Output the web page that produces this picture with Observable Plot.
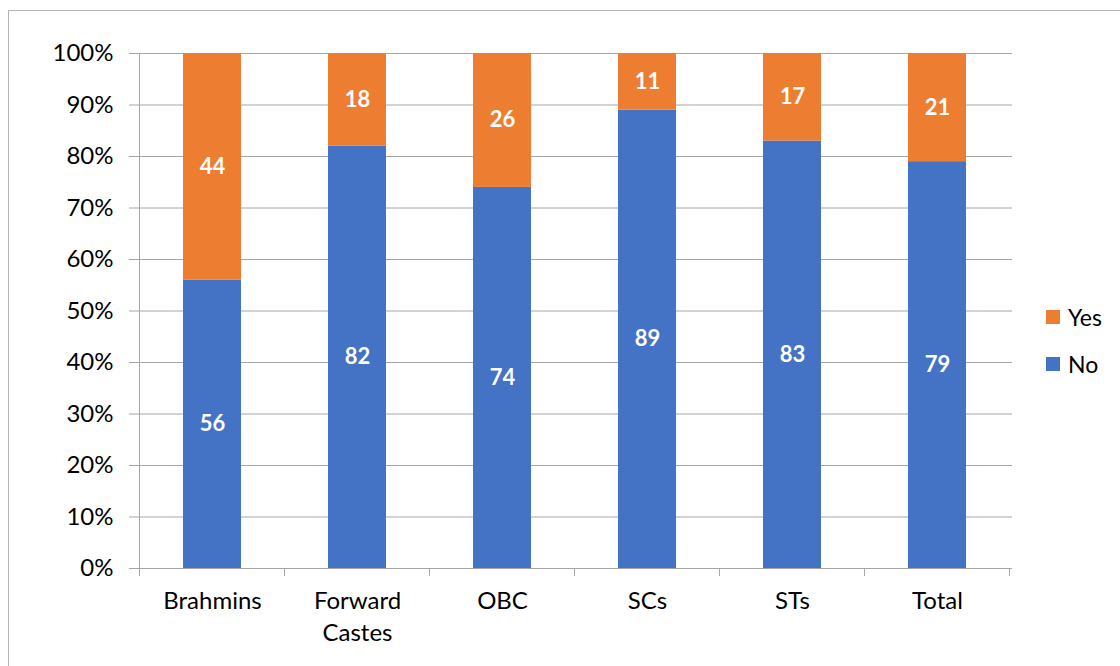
<!DOCTYPE html>
<html>
<head>
<meta charset="utf-8">
<script src="https://cdn.jsdelivr.net/npm/d3@7"></script>
<script src="https://cdn.jsdelivr.net/npm/@observablehq/plot@0.6"></script>
<style>
  html, body { margin: 0; padding: 0; background: #fff; }
  #wrap { position: relative; width: 1120px; height: 666px; overflow: hidden; font-family: Lato, "Open Sans", sans-serif; }
  #border { position: absolute; left: 8px; top: 10px; width: 1130px; height: 680px; border: 1.5px solid #b4b4b4; box-sizing: border-box; }
  #chart { position: absolute; left: 0; top: 0; }
  #legend { position: absolute; left: 1046px; top: 300px; font-size: 23px; color: #000; }
  .li { display: flex; align-items: center; height: 34px; margin-bottom: 13px; }
  .sw { width: 14px; height: 14px; margin-right: 8px; }
</style>
</head>
<body>
<div id="wrap">
  <div id="border"></div>
  <div id="chart"></div>
  <div id="legend"></div>
</div>
<script>
const categories = ["Brahmins", "Forward\nCastes", "OBC", "SCs", "STs", "Total"];
const yesValues = [44, 18, 26, 11, 17, 21];
const noValues = [56, 82, 74, 89, 83, 79];
const seriesNames = ["No", "Yes"];
const seriesColors = ["#4472c4", "#ed7d31"];
const yTicks = [0, 10, 20, 30, 40, 50, 60, 70, 80, 90, 100];
const legendOrder = ["Yes", "No"];

const data = [];
categories.forEach((c, i) => {
  data.push({cat: c, series: "No", value: noValues[i]});
  data.push({cat: c, series: "Yes", value: yesValues[i]});
});

const gray = "#a6a6a6";

const plot = Plot.plot({
  width: 1120,
  height: 666,
  marginLeft: 137,
  marginRight: 108,
  marginTop: 53,
  marginBottom: 98,
  style: { fontFamily: "Lato, 'Open Sans', sans-serif", fontSize: "24px", color: "#000", background: "transparent" },
  x: { domain: categories, paddingInner: 0.6, paddingOuter: 0.3, label: null },
  y: { domain: [0, 100], label: null },
  color: { domain: seriesNames, range: seriesColors },
  marks: [
    Plot.gridY(yTicks, { stroke: gray, strokeOpacity: 1, strokeWidth: 1 }),
    Plot.axisY({ ticks: yTicks, tickFormat: d => d + "%", tickSize: 8, tickPadding: 16, stroke: gray, fontSize: 24, label: null }),
    Plot.axisX({ tickSize: 0, tickPadding: 17, fontSize: 24, lineHeight: 1.35, label: null }),
    Plot.barY(data, Plot.stackY({ x: "cat", y: "value", fill: "series", order: seriesNames })),
    Plot.text(data, Plot.stackY({ x: "cat", y: "value", z: "series", order: seriesNames, text: d => String(d.value), fill: "white", fontWeight: "bold", fontSize: 22 }))
  ]
});

document.getElementById("chart").appendChild(plot);

// Axis line and category boundary ticks derived from the x scale
const xs = plot.scale("x");
const ys = plot.scale("y");
const step = xs.step;
const bw = xs.bandwidth;
const y0 = ys.apply(0), y100 = ys.apply(100);
const svg = d3.select(plot);
const g = svg.append("g").attr("stroke", gray).attr("stroke-width", 1);
const bounds = categories.map(c => xs.apply(c) - (step - bw) / 2);
bounds.push(xs.apply(categories[categories.length - 1]) + bw + (step - bw) / 2);
g.append("line").attr("x1", bounds[0]).attr("x2", bounds[0]).attr("y1", y100).attr("y2", y0);
bounds.forEach(b => {
  g.append("line").attr("x1", b).attr("x2", b).attr("y1", y0).attr("y2", y0 + 8);
});

// Legend
const leg = document.getElementById("legend");
legendOrder.forEach(s => {
  const row = document.createElement("div");
  row.className = "li";
  const sw = document.createElement("div");
  sw.className = "sw";
  sw.style.background = seriesColors[seriesNames.indexOf(s)];
  const t = document.createElement("span");
  t.textContent = s;
  row.appendChild(sw);
  row.appendChild(t);
  leg.appendChild(row);
});
</script>
</body>
</html>
